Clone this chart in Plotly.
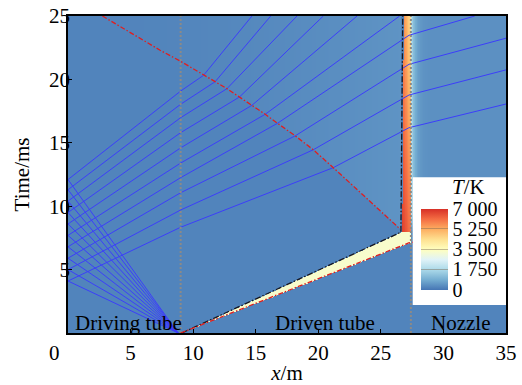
import numpy as np
import plotly.graph_objects as go

SERIF = "Liberation Serif, Times New Roman, serif"

# ---- wave diagram data (x in m, t in ms) ----
# incident shock, then transmitted shock in the nozzle
SHOCK_X = [9.0, 27.22, 35.0]
SHOCK_T = [0.0, 7.10, 8.52]
# contact surface
CONTACT_X = [9.1, 26.6, 26.75]
CONTACT_T = [0.0, 7.95, 25.0]
# reflected shock travelling back into the tube
REFL_X = [2.75, 7.36, 8.96, 10.83, 11.76, 12.7, 13.7, 14.7, 15.76, 16.74, 18.16, 19.6, 21.2, 26.56]
REFL_T = [25.0, 22.3, 21.45, 20.32, 19.82, 19.27, 18.61, 17.96, 17.25, 16.54, 15.55, 14.45, 13.04, 8.18]
# diaphragm and nozzle-entrance stations
STATION_X = [9.0, 27.4]

# characteristics of the expansion fan (lowest first)
FAN_ORIGIN_X = 8.8
WALL_T = [4.1, 5.0, 5.9, 6.8, 7.7, 8.6, 9.5, 10.4, 11.3, 12.1]
DIAPHRAGM_T = [8.34, 9.7, 11.06, 12.25, 13.4, 14.6, 15.8, 16.98, 18.04, 19.08]
BEND_X = [21.2, 19.6, 18.16, 16.74, 15.76, 14.7, 13.7, 12.7, 11.76, 10.83]
BEND_T = [13.04, 14.45, 15.55, 16.54, 17.25, 17.96, 18.61, 19.27, 19.82, 20.32]
# first four reach the contact / nozzle, the rest leave through the top
CONTACT_HIT_X = 27.25
CONTACT_HIT_T = [16.19, 18.77, 21.19, 23.48]
NOZZLE_EXIT_X = [35.0, 35.0, 35.0, 32.5]
NOZZLE_EXIT_T = [18.06, 20.75, 23.25, 25.0]
TOP_EXIT_X = [26.5, 23.1, 20.4, 18.3, 16.2, 14.7]

# temperature levels (K)
T_AMBIENT = 230
T_REFL_RISE = 250
T_SHOCKED = 3300
T_NOZZLE = 420
T_WALL_GLOW = 1500
STRIP_T = [7.95, 25.0]
STRIP_LEFT = [6900, 5800]
STRIP_RIGHT = [6000, 4300]
STRIP_RIGHT_X = 27.38

COLORBAR_VALS = [0, 1750, 3500, 5250, 7000]
COLORBAR_TEXT = ["0", "1 750", "3 500", "5 250", "7 000"]

# ---- temperature field ----
xs = np.linspace(0, 35, 701)
ts = np.linspace(0, 25, 501)
X, TT = np.meshgrid(xs, ts)
field = np.full(X.shape, float(T_AMBIENT))

t_refl = np.interp(X, REFL_X, REFL_T, left=99.0)
behind = (TT >= t_refl) & (X < CONTACT_X[1])
field[behind] = T_AMBIENT + T_REFL_RISE * (X[behind] / CONTACT_X[1]) ** 2

t_shock = np.interp(X, SHOCK_X, SHOCK_T)
t_cont = np.interp(X, CONTACT_X[:2], CONTACT_T[:2])
wedge = (X >= SHOCK_X[0]) & (X <= STRIP_RIGHT_X) & (TT >= t_shock) & (TT <= t_cont)
field[wedge] = T_SHOCKED

xc = np.interp(TT, CONTACT_T[1:], CONTACT_X[1:])
strip = (TT > CONTACT_T[1]) & (X >= xc + 0.08) & (X <= STRIP_RIGHT_X)
frac = np.clip((X - xc) / (STRIP_RIGHT_X - xc), 0, 1)
t_left = np.interp(TT, STRIP_T, STRIP_LEFT)
t_right = np.interp(TT, STRIP_T, STRIP_RIGHT)
field[strip] = (t_left * (1 - frac) + t_right * frac)[strip]

nozzle = (X > STATION_X[1]) & (TT >= t_shock)
glow = T_WALL_GLOW * np.exp(-(X - STATION_X[1]) / 0.3) * np.clip((TT - 8.0) / 1.5, 0, 1)
field[nozzle] = (T_NOZZLE + glow)[nozzle]

colorscale = [
    [0.0, "#4575b4"], [0.125, "#74add1"], [0.25, "#abd9e9"], [0.375, "#e0f3f8"],
    [0.5, "#ffffbf"], [0.625, "#fee090"], [0.75, "#fdae61"], [0.875, "#f46d43"],
    [1.0, "#d73027"],
]

fig = go.Figure()
fig.add_trace(go.Heatmap(
    x=xs, y=ts, z=field.astype(np.int16),
    zmin=0, zmax=7000, colorscale=colorscale, zsmooth="best",
    hoverinfo="skip",
    colorbar=dict(
        xref="container", yref="container",
        x=421 / 522, xanchor="left", xpad=0,
        y=0.2145, yanchor="middle", ypad=0,
        len=81, lenmode="pixels", thickness=27, thicknessmode="pixels",
        outlinewidth=0, bgcolor="rgba(0,0,0,0)",
        tickmode="array", tickvals=COLORBAR_VALS, ticktext=COLORBAR_TEXT,
        ticks="inside", ticklen=27, tickwidth=1, tickcolor="rgba(120,100,80,0.45)",
        tickfont=dict(family=SERIF, size=20, color="black"),
    ),
))

# characteristic lines
cx, ct = [], []
for i in range(len(WALL_T)):
    px = [FAN_ORIGIN_X, 0.0, STATION_X[0], BEND_X[i]]
    pt = [0.0, WALL_T[i], DIAPHRAGM_T[i], BEND_T[i]]
    if i < len(CONTACT_HIT_T):
        px += [CONTACT_HIT_X, NOZZLE_EXIT_X[i]]
        pt += [CONTACT_HIT_T[i], NOZZLE_EXIT_T[i]]
    else:
        px += [TOP_EXIT_X[i - len(CONTACT_HIT_T)]]
        pt += [25.0]
    cx += px + [None]
    ct += pt + [None]
fig.add_trace(go.Scatter(x=cx, y=ct, mode="lines",
                         line=dict(color="rgb(60,62,250)", width=1), hoverinfo="skip"))

# stations
for sx in STATION_X:
    fig.add_trace(go.Scatter(x=[sx, sx], y=[0, 25], mode="lines",
                             line=dict(color="rgb(140,138,135)", width=2, dash="2px,2px"),
                             hoverinfo="skip"))

# contact surface
fig.add_trace(go.Scatter(x=CONTACT_X, y=CONTACT_T, mode="lines",
                         line=dict(color="rgb(25,25,35)", width=1.3, dash="6px,2px,1.5px,2px"),
                         hoverinfo="skip"))
# shocks
red_line = dict(color="rgb(225,30,30)", width=1.3, dash="5px,2px,1.5px,2px")
fig.add_trace(go.Scatter(x=SHOCK_X, y=SHOCK_T, mode="lines", line=red_line, hoverinfo="skip"))
fig.add_trace(go.Scatter(x=REFL_X, y=REFL_T, mode="lines", line=red_line, hoverinfo="skip"))

# legend panel behind the colour bar
fig.add_shape(type="rect", xref="paper", yref="paper",
              x0=0.787, x1=1.0, y0=0.088, y1=0.491,
              fillcolor="white", line=dict(width=0), layer="above")

ann_font = dict(family=SERIF, size=21, color="black")
fig.add_annotation(text="<i>T</i>/K", xref="paper", yref="paper", x=0.872, y=0.46,
                   xanchor="left", yanchor="middle", showarrow=False, font=ann_font)
fig.add_annotation(text="Driving tube", x=0.4, y=0.8, xanchor="left", yanchor="middle",
                   showarrow=False, font=ann_font)
fig.add_annotation(text="Driven tube", x=20.52, y=0.8, xanchor="center", yanchor="middle",
                   showarrow=False, font=ann_font)
fig.add_annotation(text="Nozzle", x=31.36, y=0.8, xanchor="center", yanchor="middle",
                   showarrow=False, font=ann_font)
fig.add_annotation(text="0", x=0, xref="x", xshift=-14, y=0, yref="paper",
                   yanchor="top", yshift=-6, showarrow=False, font=ann_font)

axis_common = dict(showline=True, linecolor="black", linewidth=1.5, mirror=True,
                   ticks="inside", ticklen=4, tickcolor="black", showgrid=False,
                   zeroline=False, tickfont=ann_font)
fig.update_xaxes(range=[0, 35], tickvals=[5, 10, 15, 20, 25, 30, 35],
                 title=dict(text="<i>x</i>/m", font=ann_font, standoff=2), **axis_common)
fig.update_yaxes(range=[0, 25], tickvals=[5, 10, 15, 20, 25], ticklabelstandoff=-8,
                 title=dict(text="Time/ms", font=ann_font, standoff=14), **axis_common)
fig.update_layout(
    width=522, height=385,
    margin=dict(l=68, r=16, t=16, b=52, autoexpand=False),
    paper_bgcolor="white", plot_bgcolor="white", showlegend=False,
    font=dict(family=SERIF, color="black"),
)
fig.write_html("out.html")
